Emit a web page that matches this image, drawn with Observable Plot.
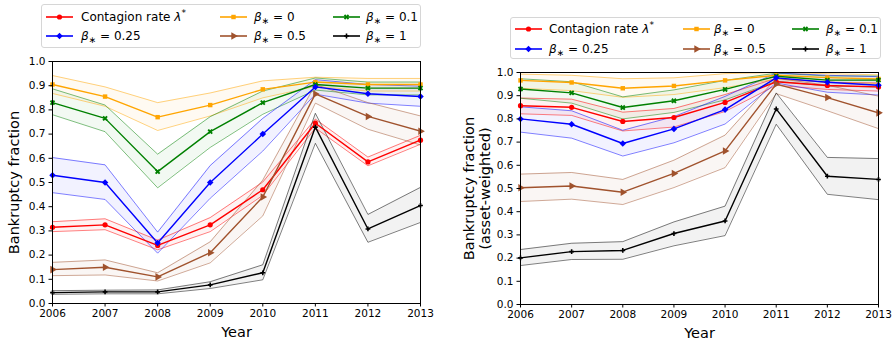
<!DOCTYPE html>
<html><head><meta charset="utf-8">
<script src="https://cdn.jsdelivr.net/npm/d3@7"></script>
<script src="https://cdn.jsdelivr.net/npm/@observablehq/plot@0.6"></script>
<style>
body{margin:0;background:#fff;font-family:"DejaVu Sans",sans-serif;}
#wrap{position:relative;width:895px;height:343px;overflow:hidden;}
#wrap > svg{position:absolute;top:0;}
.legend{position:absolute;box-sizing:border-box;border:1px solid #d6d6d6;border-radius:3px;background:rgba(255,255,255,0.8);font-size:12px;color:#000;}
.item{position:absolute;height:14px;white-space:nowrap;}
.item svg{position:absolute;left:0;top:2px;}
.item span{position:absolute;top:-1px;line-height:16px;}
.item sub{font-size:9px;vertical-align:-3px;line-height:0;}
.item sup{font-size:9px;vertical-align:5px;line-height:0;}
</style></head><body><div id="wrap"></div><script>
const years = [2006, 2007, 2008, 2009, 2010, 2011, 2012, 2013];
const yTicks = [0, 0.1, 0.2, 0.3, 0.4, 0.5, 0.6, 0.7, 0.8, 0.9, 1.0];
const seriesKeys = ["lambda", "b0", "b01", "b025", "b05", "b1"];
const seriesColors = ["red", "orange", "green", "blue", "sienna", "black"];
const seriesSymbols = ["circle", "square", "cross", "square", "triangle", "cross"];
const seriesRotate = [0, 0, 45, 45, 90, 0];
const seriesMarkerR = [2.6, 2.5, 2.4, 2.6, 2.8, 2.0];
const legendGreek = ["λ", "β", "β", "β", "β", "β"];
const legendPrefix = ["Contagion rate ", "", "", "", "", ""];
const legendSuffix = ["", " = 0", " = 0.1", " = 0.25", " = 0.5", " = 1"];
const legendColumns = [["lambda", "b025"], ["b0", "b05"], ["b01", "b1"]];

// Left panel: bankruptcy fraction
const leftMid = [
  [0.315, 0.325, 0.240, 0.325, 0.470, 0.745, 0.585, 0.675],
  [0.905, 0.855, 0.770, 0.820, 0.885, 0.915, 0.905, 0.905],
  [0.830, 0.765, 0.545, 0.710, 0.830, 0.905, 0.890, 0.890],
  [0.530, 0.500, 0.250, 0.500, 0.700, 0.895, 0.867, 0.855],
  [0.140, 0.150, 0.110, 0.210, 0.440, 0.866, 0.773, 0.712],
  [0.045, 0.048, 0.048, 0.077, 0.127, 0.729, 0.308, 0.405]
];
const leftLow = [
  [0.297, 0.305, 0.222, 0.297, 0.447, 0.725, 0.569, 0.658],
  [0.868, 0.815, 0.715, 0.775, 0.850, 0.897, 0.878, 0.878],
  [0.780, 0.710, 0.478, 0.645, 0.782, 0.882, 0.862, 0.862],
  [0.458, 0.430, 0.208, 0.435, 0.630, 0.865, 0.828, 0.815],
  [0.115, 0.118, 0.093, 0.168, 0.362, 0.828, 0.720, 0.655],
  [0.038, 0.040, 0.040, 0.062, 0.098, 0.662, 0.253, 0.335]
];
const leftHigh = [
  [0.338, 0.350, 0.262, 0.355, 0.502, 0.762, 0.605, 0.695],
  [0.942, 0.895, 0.830, 0.870, 0.920, 0.935, 0.930, 0.930],
  [0.887, 0.820, 0.617, 0.772, 0.878, 0.932, 0.915, 0.915],
  [0.603, 0.573, 0.295, 0.570, 0.765, 0.925, 0.905, 0.898],
  [0.170, 0.180, 0.127, 0.255, 0.510, 0.905, 0.830, 0.775],
  [0.053, 0.055, 0.056, 0.090, 0.160, 0.786, 0.368, 0.480]
];
// Right panel: asset-weighted bankruptcy fraction
const rightMid = [
  [0.857, 0.850, 0.789, 0.806, 0.871, 0.960, 0.944, 0.938],
  [0.966, 0.957, 0.932, 0.942, 0.966, 0.988, 0.978, 0.972],
  [0.929, 0.912, 0.849, 0.878, 0.927, 0.984, 0.967, 0.967],
  [0.800, 0.777, 0.694, 0.757, 0.840, 0.977, 0.958, 0.945],
  [0.503, 0.511, 0.484, 0.565, 0.662, 0.950, 0.892, 0.826],
  [0.201, 0.228, 0.233, 0.306, 0.360, 0.843, 0.553, 0.539]
];
const rightLow = [
  [0.822, 0.815, 0.748, 0.765, 0.832, 0.945, 0.927, 0.920],
  [0.932, 0.922, 0.893, 0.905, 0.935, 0.972, 0.958, 0.952],
  [0.889, 0.868, 0.800, 0.828, 0.882, 0.962, 0.942, 0.937],
  [0.743, 0.717, 0.640, 0.697, 0.778, 0.955, 0.915, 0.903],
  [0.444, 0.454, 0.431, 0.504, 0.590, 0.909, 0.835, 0.758],
  [0.168, 0.194, 0.195, 0.253, 0.297, 0.777, 0.475, 0.452]
];
const rightHigh = [
  [0.890, 0.885, 0.829, 0.845, 0.905, 0.975, 0.958, 0.955],
  [0.993, 0.988, 0.973, 0.977, 0.995, 1.000, 0.995, 0.990],
  [0.973, 0.960, 0.895, 0.925, 0.966, 0.997, 0.985, 0.985],
  [0.852, 0.835, 0.751, 0.810, 0.897, 0.998, 0.988, 0.982],
  [0.562, 0.569, 0.539, 0.622, 0.730, 0.975, 0.945, 0.898],
  [0.237, 0.264, 0.271, 0.356, 0.424, 0.912, 0.634, 0.629]
];

const FONT = "DejaVu Sans";

function buildPanel(mid, low, high, opts) {
  const marks = [];
  const rows = seriesKeys.map((k, i) => years.map((yr, j) => ({year: yr, mid: mid[i][j], lo: low[i][j], hi: high[i][j]})));
  rows.forEach((r, i) => {
    marks.push(Plot.areaY(r, {x: "year", y1: "lo", y2: "hi", fill: seriesColors[i], fillOpacity: 0.05, clip: true}));
  });
  rows.forEach((r, i) => {
    marks.push(Plot.lineY(r, {x: "year", y: "lo", stroke: seriesColors[i], strokeOpacity: 0.5, strokeWidth: 1, clip: true}));
    marks.push(Plot.lineY(r, {x: "year", y: "hi", stroke: seriesColors[i], strokeOpacity: 0.5, strokeWidth: 1, clip: true}));
  });
  rows.forEach((r, i) => {
    marks.push(Plot.lineY(r, {x: "year", y: "mid", stroke: seriesColors[i], strokeWidth: 1.4, clip: true}));
    marks.push(Plot.dot(r, {x: "year", y: "mid", fill: seriesColors[i], stroke: "none", symbol: seriesSymbols[i], rotate: seriesRotate[i], r: seriesMarkerR[i]}));
  });
  marks.push(Plot.frame({stroke: "black", strokeWidth: 1}));
  marks.push(Plot.axisX({ticks: years, tickFormat: d => String(d), tickSize: 3.5, tickPadding: 3, label: null, fontSize: 10.5}));
  marks.push(Plot.axisY({ticks: yTicks, tickFormat: d3.format(".1f"), tickSize: 3.5, tickPadding: 3.5, label: null, fontSize: 10.5}));
  marks.push(Plot.text([opts.ylabel], {text: d => d, frameAnchor: "left", dx: opts.ylabelDx, rotate: -90, fontSize: 14.5, lineHeight: 1.1, textAnchor: "middle", lineAnchor: "middle", fill: "black"}));
  marks.push(Plot.text(["Year"], {text: d => d, frameAnchor: "bottom", dy: 29, fontSize: 14.5, lineAnchor: "middle", fill: "black"}));
  const svg = Plot.plot({
    width: opts.width, height: 343,
    marginLeft: opts.ml, marginRight: opts.mr, marginTop: opts.mt, marginBottom: opts.mb,
    x: {domain: [2006, 2013], axis: null},
    y: {domain: [0, 1], axis: null},
    style: {fontFamily: FONT, fontSize: "10.5px", color: "black", background: "transparent", overflow: "visible"},
    marks
  });
  svg.style.left = opts.left + "px";
  return svg;
}

function symbolPath(name, r) {
  const map = {circle: d3.symbolCircle, square: d3.symbolSquare, cross: d3.symbolCross, triangle: d3.symbolTriangle};
  return d3.symbol(map[name], Math.PI * r * r)();
}

function buildLegend(box) {
  const lg = document.createElement("div");
  lg.className = "legend";
  Object.assign(lg.style, {left: box.left + "px", top: box.top + "px", width: box.width + "px", height: box.height + "px"});
  legendColumns.forEach((col, ci) => {
    col.forEach((key, ri) => {
      const i = seriesKeys.indexOf(key);
      const item = document.createElement("div");
      item.className = "item";
      item.style.left = box.cols[ci] + "px";
      item.style.top = (box.rows[ri] - 7) + "px";
      const c = seriesColors[i];
      const sym = seriesSymbols[i];
      item.innerHTML =
        `<svg width="27" height="10" viewBox="0 0 27 10"><line x1="0" x2="27" y1="5" y2="5" stroke="${c}" stroke-width="1.6"/>` +
        `<path d="${symbolPath(sym, seriesMarkerR[i])}" fill="${c}" transform="translate(13.5,5) rotate(${seriesRotate[i]})"/></svg>` +
        `<span style="left:${box.textOff[ci]}px">${legendPrefix[i]}<i>${legendGreek[i]}</i>` +
        (i === 0 ? `<sup>*</sup>` : `<sub>∗</sub>`) + `${legendSuffix[i]}</span>`;
      lg.appendChild(item);
    });
  });
  return lg;
}

const wrap = document.getElementById("wrap");
wrap.appendChild(buildPanel(leftMid, leftLow, leftHigh, {left: 0, width: 440, ml: 52, mr: 20, mt: 61, mb: 40, ylabel: "Bankruptcy fraction", ylabelDx: -38.7}));
wrap.appendChild(buildPanel(rightMid, rightLow, rightHigh, {left: 450, width: 445, ml: 70, mr: 17, mt: 72, mb: 39, ylabel: "Bankruptcy fraction\n(asset-weighted)", ylabelDx: -44}));
wrap.appendChild(buildLegend({left: 41, top: 4, width: 380, height: 44, cols: [4, 178, 291], rows: [11.7, 31], textOff: [35, 34, 33]}));
wrap.appendChild(buildLegend({left: 510, top: 17, width: 371, height: 42, cols: [4, 172, 281], rows: [11.3, 30.7], textOff: [34, 31, 34]}));
</script></body></html>
